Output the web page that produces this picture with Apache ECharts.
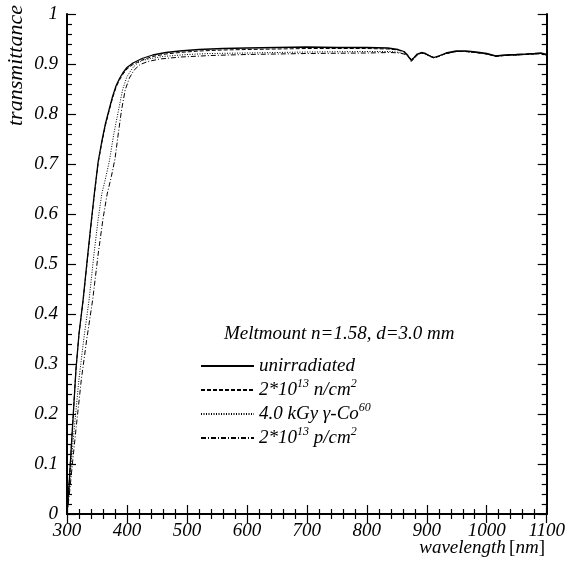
<!DOCTYPE html>
<html>
<head>
<meta charset="utf-8">
<script src="https://cdn.jsdelivr.net/npm/echarts@6/dist/echarts.min.js"></script>
<style>
  html, body { margin: 0; padding: 0; background: #fff; }
  #chart { width: 568px; height: 561px; }
</style>
</head>
<body>
<div id="chart"></div>
<script>
// Transmittance spectra of Meltmount (n=1.58, d=3.0 mm) before and after irradiation

// unirradiated sample
const unirrWl = [300, 303, 306, 310, 315, 320, 327, 333, 340, 346, 352, 358, 364, 370, 376, 382, 388, 393, 400, 410, 425, 443, 465, 488, 520, 560, 600, 650, 700, 750, 800, 835, 852, 862, 868, 874, 879, 884, 891, 898, 905, 912, 920, 932, 949, 965, 982, 1000, 1015, 1030, 1049, 1065, 1080, 1090, 1100];
const unirrT  = [0.00, 0.05, 0.11, 0.19, 0.29, 0.36, 0.43, 0.50, 0.58, 0.645, 0.705, 0.745, 0.78, 0.808, 0.835, 0.857, 0.872, 0.882, 0.893, 0.902, 0.911, 0.918, 0.923, 0.926, 0.929, 0.931, 0.932, 0.933, 0.934, 0.933, 0.933, 0.932, 0.929, 0.925, 0.918, 0.907, 0.913, 0.920, 0.923, 0.921, 0.916, 0.913, 0.916, 0.922, 0.926, 0.926, 0.924, 0.921, 0.916, 0.918, 0.919, 0.920, 0.921, 0.922, 0.919];

// 2*10^13 n/cm^2
const neutWl = [300, 303, 306, 310, 315, 320, 327, 333, 340, 346, 352, 358, 364, 370, 376, 382, 388, 393, 400, 410, 425, 443, 465, 488, 520, 560, 600, 650, 700, 750, 800, 835, 852, 862, 868, 874, 879, 884, 891, 898, 905, 912, 920, 932, 949, 965, 982, 1000, 1015, 1030, 1049, 1065, 1080, 1090, 1100];
const neutT  = [0.00, 0.05, 0.11, 0.19, 0.29, 0.36, 0.428, 0.497, 0.577, 0.642, 0.702, 0.742, 0.777, 0.805, 0.832, 0.854, 0.869, 0.879, 0.890, 0.899, 0.908, 0.915, 0.920, 0.923, 0.926, 0.928, 0.929, 0.930, 0.931, 0.931, 0.931, 0.930, 0.928, 0.924, 0.917, 0.905, 0.911, 0.918, 0.922, 0.920, 0.915, 0.912, 0.915, 0.921, 0.925, 0.925, 0.923, 0.920, 0.915, 0.917, 0.918, 0.919, 0.920, 0.921, 0.918];

// 4.0 kGy gamma (Co-60)
const gammaWl = [300, 303, 307, 312, 320, 328, 337, 345, 352, 358, 365, 371, 378, 386, 393, 400, 410, 418, 426, 440, 460, 500, 538, 600, 700, 800, 840, 855, 865, 870, 875, 880, 886, 892, 900, 912, 920, 932, 949, 965, 982, 1000, 1015, 1030, 1049, 1065, 1080, 1090, 1100];
const gammaT  = [0.00, 0.04, 0.10, 0.17, 0.27, 0.35, 0.43, 0.52, 0.59, 0.64, 0.675, 0.708, 0.76, 0.808, 0.85, 0.875, 0.893, 0.902, 0.907, 0.911, 0.915, 0.919, 0.921, 0.922, 0.924, 0.925, 0.925, 0.923, 0.919, 0.914, 0.909, 0.914, 0.920, 0.922, 0.919, 0.913, 0.916, 0.921, 0.925, 0.925, 0.923, 0.920, 0.916, 0.917, 0.918, 0.919, 0.920, 0.921, 0.918];

// 2*10^13 p/cm^2
const protWl = [300, 304, 309, 315, 324, 333, 343, 352, 360, 367, 374, 380, 386, 391, 397, 404, 412, 422, 435, 455, 490, 540, 600, 700, 800, 840, 855, 865, 870, 875, 880, 886, 892, 900, 912, 920, 932, 949, 965, 982, 1000, 1015, 1030, 1049, 1065, 1080, 1090, 1100];
const protT  = [0.00, 0.04, 0.10, 0.17, 0.27, 0.35, 0.43, 0.52, 0.59, 0.64, 0.675, 0.71, 0.765, 0.808, 0.848, 0.872, 0.888, 0.899, 0.905, 0.910, 0.914, 0.917, 0.919, 0.921, 0.922, 0.923, 0.922, 0.919, 0.914, 0.909, 0.914, 0.920, 0.922, 0.919, 0.913, 0.916, 0.921, 0.925, 0.925, 0.923, 0.920, 0.916, 0.917, 0.918, 0.919, 0.920, 0.921, 0.918];

const xTicks = { min: 300, max: 1100, step: 100 };
const yTicks = { min: 0, max: 1, step: 0.1 };

const FONT = '"Liberation Serif", "Times New Roman", serif';

function zip(xs, ys) { return xs.map((x, i) => [x, ys[i]]); }

const legendLabels = {
  'unirradiated': 'unirradiated',
  'neut': '2*10{sup|13} n/cm{sup|2}',
  'gamma': '4.0 kGy γ-Co{sup|60}',
  'prot': '2*10{sup|13} p/cm{sup|2}'
};

const axisLine = { show: true, lineStyle: { color: '#000', width: 2 } };
const tickStyle = { inside: true, length: 9, lineStyle: { color: '#000', width: 1.2 } };
const minorStyle = { show: true, splitNumber: 5, length: 5, lineStyle: { color: '#000', width: 1.2 } };
const labelFont = { fontFamily: FONT, fontStyle: 'italic', fontSize: 19, color: '#000' };

const chart = echarts.init(document.getElementById('chart'), null, { renderer: 'canvas' });

chart.setOption({
  backgroundColor: '#fff',
  animation: false,
  title: {
    text: 'Meltmount n=1.58, d=3.0 mm',
    left: 224, top: 324, padding: 0,
    textStyle: { fontFamily: FONT, fontStyle: 'italic', fontWeight: 'normal', fontSize: 19, color: '#000' }
  },
  legend: {
    orient: 'vertical',
    left: 200, top: 354,
    padding: 0,
    itemGap: 0,
    itemWidth: 53, itemHeight: 14,
    itemStyle: { opacity: 0 },
    data: ['unirradiated', 'neut', 'gamma', 'prot'],
    formatter: name => legendLabels[name],
    textStyle: {
      fontFamily: FONT, fontStyle: 'italic', fontSize: 19, color: '#000', lineHeight: 24,
      rich: {
        sup: { fontFamily: FONT, fontStyle: 'italic', fontSize: 12, color: '#000', verticalAlign: 'top', lineHeight: 24 }
      }
    }
  },
  grid: { left: 67, top: 14, width: 481, height: 500 },
  xAxis: [
    {
      type: 'value', min: xTicks.min, max: xTicks.max, interval: xTicks.step,
      position: 'bottom',
      axisLine, axisTick: tickStyle, minorTick: minorStyle,
      splitLine: { show: false },
      axisLabel: Object.assign({ margin: 7, formatter: v => String(v) }, labelFont)
    },
    {
      type: 'value', min: xTicks.min, max: xTicks.max, interval: xTicks.step,
      position: 'top',
      axisLine, axisTick: tickStyle, minorTick: minorStyle,
      splitLine: { show: false },
      axisLabel: { show: false }
    }
  ],
  yAxis: [
    {
      type: 'value', min: yTicks.min, max: yTicks.max, interval: yTicks.step,
      position: 'left',
      axisLine, axisTick: tickStyle, minorTick: minorStyle,
      splitLine: { show: false },
      axisLabel: Object.assign({
        margin: 9,
        formatter: v => (Math.abs(v) < 1e-9 ? '0' : Math.abs(v - 1) < 1e-9 ? '1' : v.toFixed(1))
      }, labelFont)
    },
    {
      type: 'value', min: yTicks.min, max: yTicks.max, interval: yTicks.step,
      position: 'right',
      axisLine, axisTick: tickStyle, minorTick: minorStyle,
      splitLine: { show: false },
      axisLabel: { show: false }
    }
  ],
  graphic: [
    {
      type: 'text', x: 16, y: 5, rotation: Math.PI / 2,
      style: {
        text: 'transmittance', fill: '#000',
        font: 'italic 22px ' + FONT,
        align: 'right', verticalAlign: 'middle'
      }
    },
    {
      type: 'text', x: 545, y: 548,
      style: {
        text: '{i|wavelength} {r|[}{i|nm}{r|]}',
        align: 'right', verticalAlign: 'middle',
        rich: {
          i: { fontFamily: FONT, fontStyle: 'italic', fontSize: 19, fill: '#000' },
          r: { fontFamily: FONT, fontSize: 19, fill: '#000' }
        }
      }
    }
  ],
  series: [
    {
      name: 'unirradiated', type: 'line', symbol: 'none', data: zip(unirrWl, unirrT),
      lineStyle: { color: '#000', width: 1.3, type: 'solid' }, itemStyle: { color: '#000' }
    },
    {
      name: 'neut', type: 'line', symbol: 'none', data: zip(neutWl, neutT),
      lineStyle: { color: '#000', width: 1, type: [4, 2] }, itemStyle: { color: '#000' }
    },
    {
      name: 'gamma', type: 'line', symbol: 'none', data: zip(gammaWl, gammaT),
      lineStyle: { color: '#000', width: 1, type: [1, 1.5] }, itemStyle: { color: '#000' }
    },
    {
      name: 'prot', type: 'line', symbol: 'none', data: zip(protWl, protT),
      lineStyle: { color: '#000', width: 1, type: [5, 2, 1, 2] }, itemStyle: { color: '#000' }
    }
  ]
});
</script>
</body>
</html>
